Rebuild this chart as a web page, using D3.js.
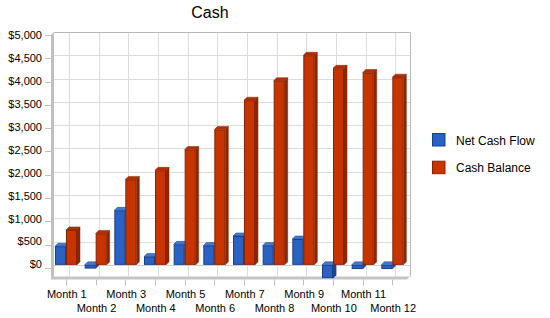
<!DOCTYPE html>
<html>
<head>
<meta charset="utf-8">
<script src="https://cdn.jsdelivr.net/npm/d3@7"></script>
<style>
  body { margin: 0; background: #fff; }
  svg { font-family: "Liberation Sans", Arial, sans-serif; }
</style>
</head>
<body>
<svg width="550" height="318"></svg>
<script>
var months = ["Month 1", "Month 2", "Month 3", "Month 4", "Month 5", "Month 6",
    "Month 7", "Month 8", "Month 9", "Month 10", "Month 11", "Month 12"];
var seriesNames = ["Net Cash Flow", "Cash Balance"];
var netCashFlow = [400, -80, 1170, 180, 440, 415, 620, 415, 555, -285, -90, -90];
var cashBalance = [750, 675, 1835, 2030, 2475, 2905, 3535, 3955, 4500, 4220, 4130, 4030];
var yTicks = [0, 500, 1000, 1500, 2000, 2500, 3000, 3500, 4000, 4500, 5000];

var colors = {
    "Net Cash Flow": { front: "#2a62c4", top: "#3f7ad8", side: "#1d4796", edge: "#17408c" },
    "Cash Balance": { front: "#c83400", top: "#b52e00", side: "#8e2600", edge: "#8a2200" }
};

var svg = d3.select("svg");
var plotLeft = 54, plotRight = 410, plotTop = 32, plotBottom = 276.5, depth = 3;

var x = d3.scaleBand().domain(months).range([plotLeft, plotRight]);
var x1 = d3.scaleBand().domain(seriesNames).range([1, 23]);
var y = d3.scaleLinear().domain([-250, 5000]).range([plotBottom, plotTop]);
// tick labels sit on a slightly tighter front plane
var yLabel = d3.scaleLinear().domain([0, 5000]).range([264.5, 35.5]);

// title
svg.append("text")
    .attr("x", 210).attr("y", 17.5)
    .attr("text-anchor", "middle")
    .style("font-size", "16px")
    .text("Cash");

// left side wall
svg.append("polygon")
    .attr("points", [[plotLeft - depth, plotTop + depth], [plotLeft, plotTop], [plotLeft, plotBottom], [plotLeft - depth, plotBottom + depth]].join(" "))
    .attr("fill", "#c0c0c0");
// floor edge
svg.append("polygon")
    .attr("points", [[plotLeft - depth, plotBottom], [plotRight, plotBottom], [plotRight - depth, plotBottom + depth], [plotLeft - depth, plotBottom + depth]].join(" "))
    .attr("fill", "#c4c4c4");

// grid
var grid = svg.append("g").attr("stroke", "#dcdcdc").attr("stroke-width", 1);
grid.selectAll("line.h")
    .data(yTicks.slice(0, -1))
    .enter().append("line")
    .attr("x1", plotLeft).attr("x2", plotRight)
    .attr("y1", function (d) { return Math.round(y(d)) + 0.5; })
    .attr("y2", function (d) { return Math.round(y(d)) + 0.5; });
grid.selectAll("line.v")
    .data(months)
    .enter().append("line")
    .attr("x1", function (d) { return Math.round(x(d) + x.bandwidth() / 2) + 0.5; })
    .attr("x2", function (d) { return Math.round(x(d) + x.bandwidth() / 2) + 0.5; })
    .attr("y1", plotTop).attr("y2", plotBottom);

// zero plane edge
svg.append("line")
    .attr("x1", plotLeft).attr("x2", plotRight)
    .attr("y1", Math.round(y(0)) + 0.5).attr("y2", Math.round(y(0)) + 0.5)
    .attr("stroke", "#cfcfcf");

// wall border top/right
svg.append("path")
    .attr("d", "M" + plotLeft + "," + (plotTop + 0.5) + "H" + (plotRight + 0.5) + "V" + plotBottom)
    .attr("fill", "none")
    .attr("stroke", "#b8b8b8");

// bars
var data = [];
months.forEach(function (m, i) {
    data.push({ month: m, series: "Net Cash Flow", value: netCashFlow[i] });
    data.push({ month: m, series: "Cash Balance", value: cashBalance[i] });
});

var bars = svg.append("g").selectAll("g")
    .data(data)
    .enter().append("g");

bars.each(function (d) {
    var g = d3.select(this);
    var c = colors[d.series];
    var x0 = x(d.month) + x1(d.series);
    var w = x1.bandwidth();
    var yt = y(Math.max(d.value, 0));
    var yb = y(Math.min(d.value, 0));
    g.append("polygon")
        .attr("points", [[x0 + w, yt], [x0 + w + depth, yt - depth], [x0 + w + depth, yb - depth], [x0 + w, yb]].join(" "))
        .attr("fill", c.side).attr("stroke", c.edge).attr("stroke-width", 0.5);
    g.append("polygon")
        .attr("points", [[x0, yt], [x0 + depth, yt - depth], [x0 + w + depth, yt - depth], [x0 + w, yt]].join(" "))
        .attr("fill", c.top).attr("stroke", c.edge).attr("stroke-width", 0.5);
    g.append("rect")
        .attr("x", x0 + 0.5).attr("y", yt + 0.5)
        .attr("width", w - 1).attr("height", Math.max(yb - yt - 1, 0.5))
        .attr("fill", c.front).attr("stroke", c.edge).attr("stroke-width", 1);
});

// y axis
var yAxis = svg.append("g");
yAxis.selectAll("line")
    .data(yTicks)
    .enter().append("line")
    .attr("x1", plotLeft - depth - 6).attr("x2", plotLeft - depth)
    .attr("y1", function (d) { return Math.round(y(d)) + depth + 0.5; })
    .attr("y2", function (d) { return Math.round(y(d)) + depth + 0.5; })
    .attr("stroke", "#c0c0c0");
yAxis.selectAll("text")
    .data(yTicks)
    .enter().append("text")
    .attr("x", 42)
    .attr("y", function (d) { return yLabel(d); })
    .attr("dy", "0.35em")
    .attr("text-anchor", "end")
    .style("font-size", "11px")
    .text(function (d) { return "$" + d3.format(",")(d); });

// x axis
var xAxis = svg.append("g");
xAxis.selectAll("line")
    .data(months)
    .enter().append("line")
    .attr("x1", function (d) { return Math.round(x(d) + x.bandwidth() / 2 - depth) + 0.5; })
    .attr("x2", function (d) { return Math.round(x(d) + x.bandwidth() / 2 - depth) + 0.5; })
    .attr("y1", plotBottom + depth).attr("y2", plotBottom + depth + 6)
    .attr("stroke", "#c0c0c0");
xAxis.selectAll("text")
    .data(months)
    .enter().append("text")
    .attr("x", function (d) { return x(d) + x.bandwidth() / 2 - depth + 1; })
    .attr("y", function (d, i) { return i % 2 === 0 ? 298 : 311.5; })
    .attr("text-anchor", "middle")
    .style("font-size", "11px")
    .text(function (d) { return d; });

// legend
var legend = svg.append("g").selectAll("g")
    .data(seriesNames)
    .enter().append("g")
    .attr("transform", function (d, i) { return "translate(432," + (133 + i * 27.7) + ")"; });
legend.append("rect")
    .attr("x", 0.5).attr("y", 0.5)
    .attr("width", 12.5).attr("height", 12.5)
    .attr("fill", function (d) { return colors[d].front; })
    .attr("stroke", function (d) { return colors[d].edge; });
legend.append("text")
    .attr("x", 24).attr("y", 11.5)
    .style("font-size", "12px")
    .text(function (d) { return d; });
</script>
</body>
</html>
